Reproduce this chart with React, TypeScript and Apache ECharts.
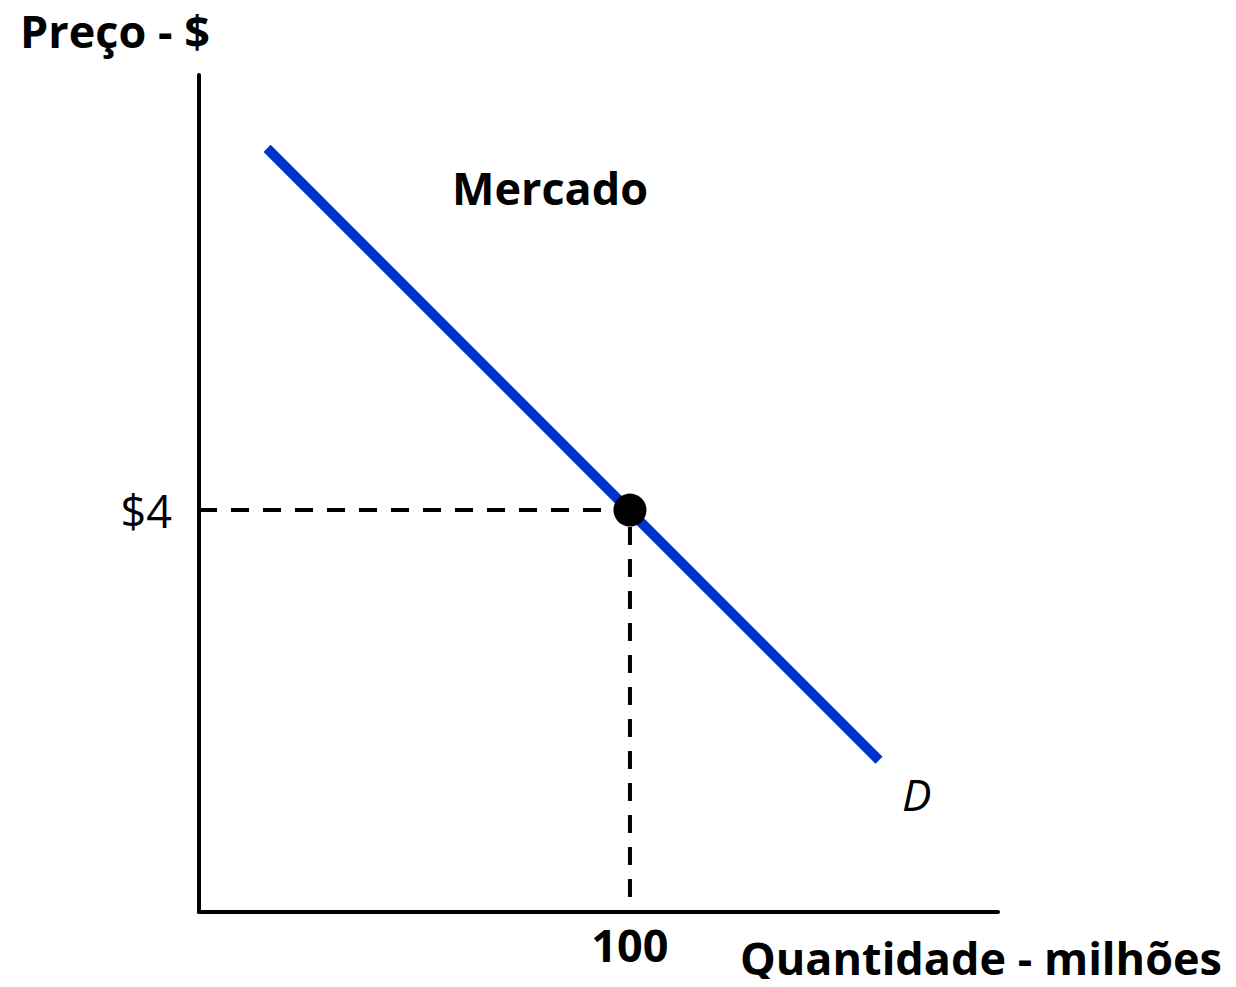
import React, { useEffect, useRef } from "react";
import * as echarts from "echarts";

// Data
const demandPoints: [number, number][] = [
  [15.8, 7.6],
  [157.8, 1.51],
];
const equilibrium: [number, number][] = [[100, 4]];
const guidePoints: [number, number][] = [
  [0, 4],
  [100, 4],
  [100, 0],
];
const xTickLabels: Record<number, string> = { 100: "100" };
const yTickLabels: Record<number, string> = { 4: "$4" };
const xMax = 185.4;
const yMax = 8.33;
const demandLabel = "D";
const chartTitle = "Mercado";
const xName = "Quantidade - milhões";
const yName = "Preço - $";

const FONT = "'Open Sans', sans-serif";

export default function App() {
  const ref = useRef<HTMLDivElement>(null);
  useEffect(() => {
    if (!ref.current) return;
    const chart = echarts.init(ref.current, undefined, { renderer: "svg" });
    chart.setOption({
      animation: false,
      backgroundColor: "#ffffff",
      grid: { left: 199, top: 75, width: 799, height: 837, containLabel: false },
      xAxis: {
        type: "value",
        min: 0,
        max: xMax,
        interval: 100,
        axisLine: { show: true, onZero: false, lineStyle: { color: "#000", width: 4 } },
        axisTick: { show: false },
        splitLine: { show: false },
        axisLabel: {
          show: true,
          margin: 10,
          color: "#000",
          fontFamily: FONT,
          fontWeight: "bold",
          fontSize: 45,
          showMaxLabel: false,
          formatter: (v: number) => xTickLabels[v] ?? "",
        },
      },
      yAxis: {
        type: "value",
        min: 0,
        max: yMax,
        interval: 4,
        axisLine: { show: true, onZero: false, lineStyle: { color: "#000", width: 4 } },
        axisTick: { show: false },
        splitLine: { show: false },
        axisLabel: {
          show: true,
          margin: 27,
          color: "#000",
          fontFamily: FONT,
          fontSize: 45,
          formatter: (v: number) => yTickLabels[v] ?? "",
        },
      },
      graphic: [
        {
          type: "text",
          x: 20,
          y: 30,
          style: {
            text: yName,
            fill: "#000",
            font: `bold 45px ${FONT}`,
            textVerticalAlign: "middle",
          },
        },
        {
          type: "text",
          x: 1222,
          y: 957,
          style: {
            text: xName,
            fill: "#000",
            font: `bold 45px ${FONT}`,
            textAlign: "right",
            textVerticalAlign: "middle",
          },
        },
        {
          type: "text",
          x: 550,
          y: 187,
          style: {
            text: chartTitle,
            fill: "#000",
            font: `bold 45px ${FONT}`,
            textAlign: "center",
            textVerticalAlign: "middle",
          },
        },
      ],
      series: [
        {
          type: "line",
          data: guidePoints,
          symbol: "none",
          lineStyle: { color: "#000", width: 4, type: [18, 14] },
          z: 1,
        },
        {
          type: "line",
          data: demandPoints,
          symbol: "none",
          lineStyle: { color: "#0033CC", width: 10, cap: "butt" },
          z: 2,
          endLabel: {
            show: true,
            formatter: () => demandLabel,
            color: "#000",
            fontFamily: FONT,
            fontStyle: "italic",
            fontSize: 44,
            offset: [15, 34],
          },
        },
        {
          type: "scatter",
          data: equilibrium,
          symbol: "circle",
          symbolSize: 33,
          itemStyle: { color: "#000", opacity: 1 },
          z: 3,
        },
      ],
    });
    return () => chart.dispose();
  }, []);
  return <div ref={ref} style={{ width: 1236, height: 987, margin: -8 }} />;
}
